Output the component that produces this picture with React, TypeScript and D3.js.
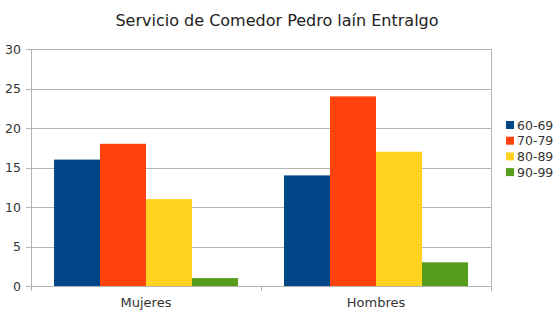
import * as d3 from 'd3';
import React, { useRef, useEffect } from 'react';

const categories = ['Mujeres', 'Hombres'];
const series = ['60-69', '70-79', '80-89', '90-99'];
const values = [
	[16, 18, 11, 1],   // Mujeres
	[14, 24, 17, 3]    // Hombres
];
const colors = ['#004586', '#ff420e', '#ffd320', '#579d1c'];
const yTicks = [0, 5, 10, 15, 20, 25, 30];

const W = 554, H = 314;

export default function App() {
	const ref = useRef<SVGSVGElement>(null);

	useEffect(() => {
		const svg = d3.select(ref.current);
		svg.selectAll('*').remove();

		const margin = { top: 49, right: 63, bottom: 28, left: 31 };
		const font = 'DejaVu Sans, Verdana, sans-serif';

		const x = d3.scaleBand()
			.domain(categories)
			.range([margin.left, W - margin.right]);

		const inner = d3.scaleBand()
			.domain(series)
			.range([0, x.bandwidth()])
			.paddingOuter(0.5)
			.paddingInner(0);

		const y = d3.scaleLinear()
			.domain([0, 30])
			.range([H - margin.bottom, margin.top]);

		// title
		svg.append('text')
			.attr('x', 277)
			.attr('y', 26)
			.attr('text-anchor', 'middle')
			.style('font-family', font)
			.style('font-size', 16)
			.attr('fill', '#222')
			.text('Servicio de Comedor Pedro laín Entralgo');

		// grid + y axis
		const gy = svg.append('g');
		gy.selectAll('line')
			.data(yTicks)
			.join('line')
			.attr('x1', margin.left - 5)
			.attr('x2', W - margin.right)
			.attr('y1', d => Math.round(y(d)) + 0.5)
			.attr('y2', d => Math.round(y(d)) + 0.5)
			.attr('stroke', '#b3b3b3');
		gy.selectAll('text')
			.data(yTicks)
			.join('text')
			.attr('x', margin.left - 10)
			.attr('y', d => y(d) + 4.5)
			.attr('text-anchor', 'end')
			.style('font-family', font)
			.style('font-size', 12.5)
			.attr('fill', '#333')
			.text(d => d);

		// bars
		svg.append('g')
			.selectAll('g')
			.data(values)
			.join('g')
			.attr('transform', (d, i) => `translate(${x(categories[i])},0)`)
			.selectAll('rect')
			.data(d => d)
			.join('rect')
			.attr('x', (d, i) => inner(series[i]))
			.attr('y', d => y(d))
			.attr('width', inner.bandwidth())
			.attr('height', d => y(0) - y(d))
			.attr('fill', (d, i) => colors[i]);

		// axis lines
		svg.append('line')
			.attr('x1', margin.left + 0.5).attr('x2', margin.left + 0.5)
			.attr('y1', margin.top).attr('y2', y(0) + 5)
			.attr('stroke', '#b3b3b3');
		svg.append('line')
			.attr('x1', W - margin.right + 0.5).attr('x2', W - margin.right + 0.5)
			.attr('y1', margin.top).attr('y2', y(0) + 5)
			.attr('stroke', '#b3b3b3');
		svg.append('line')
			.attr('x1', margin.left).attr('x2', W - margin.right)
			.attr('y1', Math.round(y(0)) + 0.5).attr('y2', Math.round(y(0)) + 0.5)
			.attr('stroke', '#b3b3b3');
		svg.append('line')
			.attr('x1', x('Hombres') + 0.5).attr('x2', x('Hombres') + 0.5)
			.attr('y1', y(0)).attr('y2', y(0) + 5)
			.attr('stroke', '#b3b3b3');

		// category labels
		svg.append('g')
			.selectAll('text')
			.data(categories)
			.join('text')
			.attr('x', d => x(d) + x.bandwidth() / 2)
			.attr('y', 307)
			.attr('text-anchor', 'middle')
			.style('font-family', font)
			.style('font-size', 13)
			.attr('fill', '#333')
			.text(d => d);

		// legend
		const lg = svg.append('g')
			.selectAll('g')
			.data(series)
			.join('g')
			.attr('transform', (d, i) => `translate(506,${121 + i * 15.7})`);
		lg.append('rect')
			.attr('width', 8)
			.attr('height', 8)
			.attr('fill', (d, i) => colors[i]);
		lg.append('text')
			.attr('x', 11)
			.attr('y', 8.5)
			.style('font-family', font)
			.style('font-size', 12.5)
			.attr('fill', '#333')
			.text(d => d);
	}, []);

	return (
		<svg ref={ref} width={W} height={H}
			style={{ position: 'absolute', left: 0, top: 0, background: '#fff' }} />
	);
}
